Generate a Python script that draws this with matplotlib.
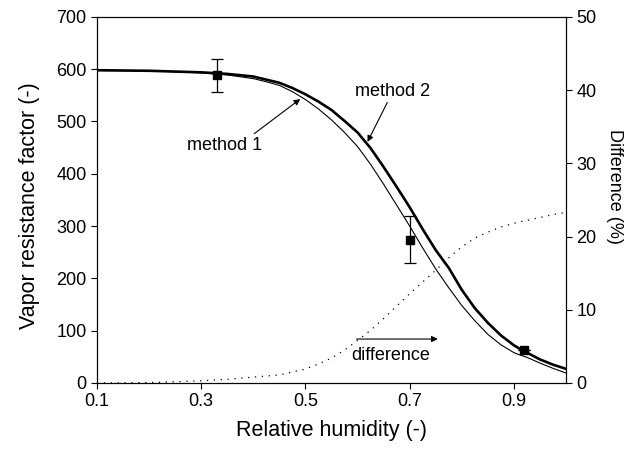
import matplotlib
matplotlib.use("Agg")
import matplotlib.pyplot as plt

plt.rcParams['font.family'] = ['Liberation Sans', 'DejaVu Sans']

# relative humidity grid (model curves)
rh = [0.1, 0.2, 0.3, 0.35, 0.4, 0.425, 0.45, 0.475, 0.5, 0.525, 0.55, 0.575, 0.6,
      0.625, 0.65, 0.675, 0.7, 0.725, 0.75, 0.775, 0.8, 0.825, 0.85, 0.875, 0.9,
      0.91, 0.925, 0.95, 0.975, 1.0]
method1 = [598, 597, 593, 589, 582, 576, 569, 557, 542, 524, 503, 479, 452,
           418, 380, 340, 300, 258, 218, 182, 148, 119, 93, 73, 58,
           54, 49, 38, 28, 19]
method2 = [598, 597, 594, 591, 586, 580, 574, 564, 552, 538, 522, 501, 479,
           449, 413, 375, 336, 294, 254, 220, 178, 143, 115, 91, 72,
           66, 58, 45, 35, 27]
difference = [0.0, 0.05, 0.3, 0.5, 0.8, 0.95, 1.1, 1.5, 1.9, 2.6, 3.4, 4.5, 5.8,
              7.2, 8.8, 10.5, 12.2, 13.8, 15.4, 17.1, 18.6, 19.8, 20.6, 21.3, 21.8,
              22.0, 22.2, 22.6, 23.0, 23.3]

# measurements
meas_rh = [0.33, 0.70, 0.92]
meas_mu = [588, 274, 63]
meas_err = [31, 45, 0]

fig = plt.figure(figsize=(6.36, 4.57), dpi=100)
ax = fig.add_axes([0.1525, 0.162, 0.7375, 0.801])

ax.plot(rh, method1, color='black', linewidth=0.8)
ax.plot(rh, method2, color='black', linewidth=1.9)
ax.errorbar(meas_rh, meas_mu, yerr=meas_err, fmt='s', color='black',
            markersize=6, capsize=4, elinewidth=0.9, capthick=0.9)

ax.set_xlim(0.1, 1.0)
ax.set_ylim(0, 700)
ax.set_xticks([0.1, 0.3, 0.5, 0.7, 0.9])
ax.set_xticklabels(['0.1', '0.3', '0.5', '0.7', '0.9'])
ax.set_yticks(range(0, 701, 100))
ax.tick_params(axis='both', direction='out', length=4, width=0.8, labelsize=13)
ax.set_xlabel("Relative humidity (-)", fontsize=15.5, labelpad=7)
ax.set_ylabel("Vapor resistance factor (-)", fontsize=15.5)
ax.yaxis.set_label_coords(-0.122, 0.484)

ax2 = ax.twinx()
ax2.plot(rh, difference, color='black', linewidth=0.9, linestyle=(0, (1, 4.5)))
ax2.set_ylim(0, 50)
ax2.set_yticks(range(0, 51, 10))
ax2.tick_params(axis='y', direction='out', length=4, width=0.8, labelsize=13)
ax2.set_ylabel("Difference (%)", fontsize=13, rotation=270)
ax2.yaxis.set_label_coords(1.1215, 0.538)

arrow = dict(arrowstyle='-|>', color='black', linewidth=0.8, mutation_scale=9,
             shrinkA=0, shrinkB=0)
ax.annotate("method 2", xy=(0.619, 461), xytext=(0.667, 558), fontsize=13,
            ha='center', va='center',
            arrowprops=dict(arrow, relpos=(0.45, 0.0)))
ax.annotate("method 1", xy=(0.490, 543), xytext=(0.344, 455), fontsize=13,
            ha='center', va='center',
            arrowprops=dict(arrow, relpos=(0.85, 1.0)))
ax.annotate("", xy=(0.754, 84), xytext=(0.598, 84), arrowprops=arrow)
ax.text(0.663, 53, "difference", fontsize=13, ha='center', va='center')

fig.savefig("out.png", dpi=100)
